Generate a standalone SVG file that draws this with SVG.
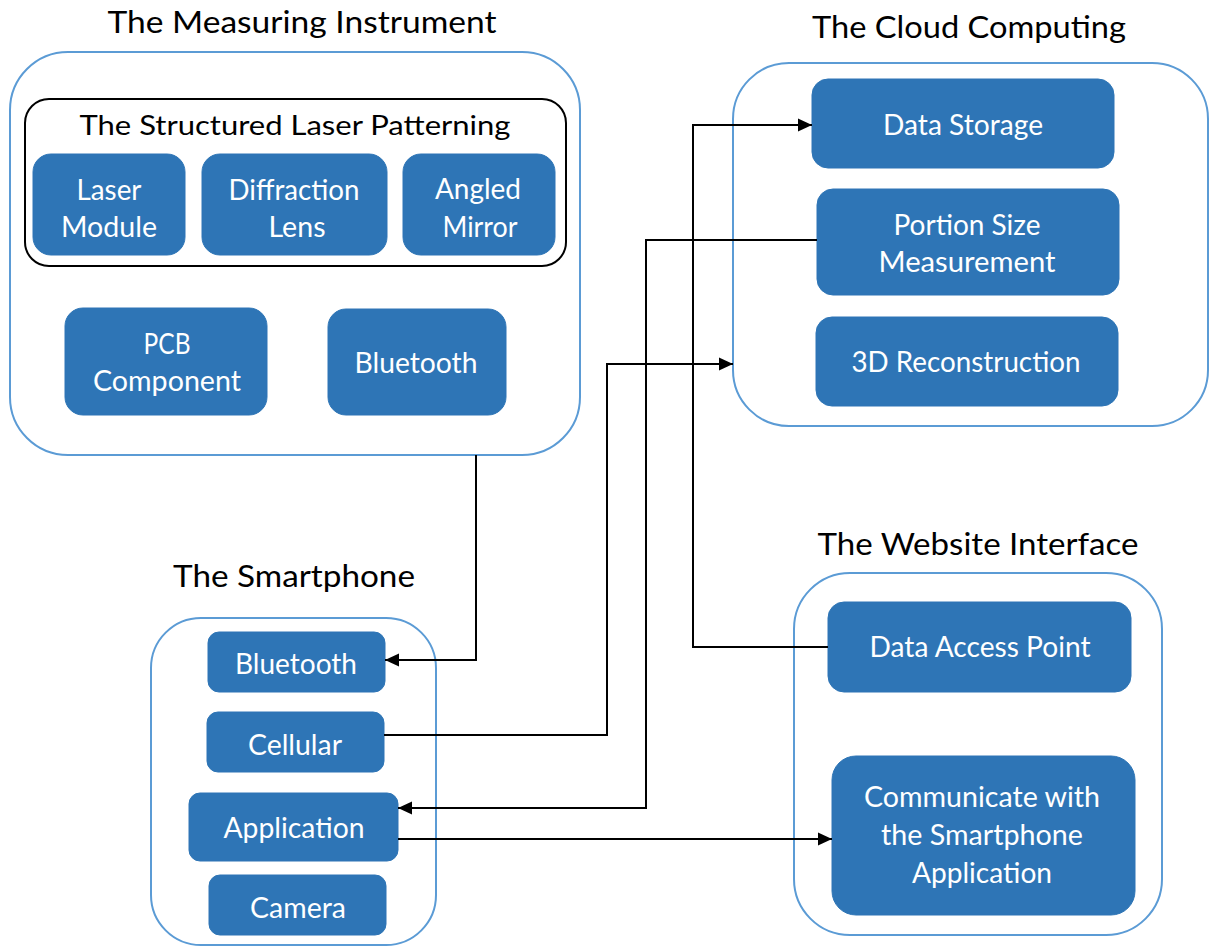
<svg xmlns="http://www.w3.org/2000/svg" width="1210" height="947" viewBox="0 0 1210 947">
  <defs>
    <style>
      .frame { fill: #ffffff; stroke: #5B9BD5; stroke-width: 2; }
      .sub { fill: none; stroke: #000000; stroke-width: 2; }
      .box { fill: #2E75B6; stroke: #2E75B6; stroke-width: 1; }
      .title { font-family: Lato, "Liberation Sans", sans-serif; font-size: 31px; fill: #000000; text-anchor: middle; }
      .subtitle { font-family: Lato, "Liberation Sans", sans-serif; font-size: 27px; fill: #000000; text-anchor: middle; }
      .label { font-family: Lato, "Liberation Sans", sans-serif; font-size: 28px; fill: #ffffff; text-anchor: middle; }
      .wire { fill: none; stroke: #000000; stroke-width: 2; }
    </style>
    <marker id="arrow" markerUnits="userSpaceOnUse" markerWidth="16" markerHeight="16" refX="14" refY="8" orient="auto">
      <path d="M0,1.5 L14,8 L0,14.5 Z" fill="#000000"/>
    </marker>
  </defs>
  <rect width="1210" height="947" fill="#ffffff"/>

  <!-- The Measuring Instrument -->
  <g id="measuring-instrument">
    <text class="title" x="302" y="33" textLength="389" lengthAdjust="spacingAndGlyphs">The Measuring Instrument</text>
    <rect class="frame" x="10" y="52" width="570" height="403" rx="58"/>
    <g id="laser-patterning">
      <rect class="sub" x="25" y="99" width="541" height="167" rx="24"/>
      <text class="subtitle" x="295" y="135" textLength="431" lengthAdjust="spacingAndGlyphs">The Structured Laser Patterning</text>
    </g>
    <g id="laser-module">
      <rect class="box" x="33" y="154" width="152" height="101" rx="18"/>
      <text class="label" x="109" y="200" textLength="65" lengthAdjust="spacingAndGlyphs">Laser</text>
      <text class="label" x="109" y="237" textLength="96" lengthAdjust="spacingAndGlyphs">Module</text>
    </g>
    <g id="diffraction-lens">
      <rect class="box" x="202" y="154" width="185" height="101" rx="18"/>
      <text class="label" x="294" y="200" textLength="131" lengthAdjust="spacingAndGlyphs">Diffraction</text>
      <text class="label" x="297" y="237" textLength="57" lengthAdjust="spacingAndGlyphs">Lens</text>
    </g>
    <g id="angled-mirror">
      <rect class="box" x="403" y="154" width="152" height="101" rx="18"/>
      <text class="label" x="478" y="199" textLength="86" lengthAdjust="spacingAndGlyphs">Angled</text>
      <text class="label" x="480" y="237" textLength="75" lengthAdjust="spacingAndGlyphs">Mirror</text>
    </g>
    <g id="pcb-component">
      <rect class="box" x="65" y="308" width="202" height="107" rx="18"/>
      <text class="label" x="167" y="354" textLength="47" lengthAdjust="spacingAndGlyphs">PCB</text>
      <text class="label" x="167" y="391" textLength="148" lengthAdjust="spacingAndGlyphs">Component</text>
    </g>
    <g id="instrument-bluetooth">
      <rect class="box" x="328" y="309" width="178" height="106" rx="18"/>
      <text class="label" x="416" y="373" textLength="123" lengthAdjust="spacingAndGlyphs">Bluetooth</text>
    </g>
  </g>

  <!-- The Cloud Computing -->
  <g id="cloud-computing">
    <text class="title" x="969" y="38" textLength="314" lengthAdjust="spacingAndGlyphs">The Cloud Computing</text>
    <rect class="frame" x="733" y="63" width="475" height="363" rx="56"/>
    <g id="data-storage">
      <rect class="box" x="812" y="79" width="302" height="89" rx="16"/>
      <text class="label" x="963" y="135" textLength="160" lengthAdjust="spacingAndGlyphs">Data Storage</text>
    </g>
    <g id="portion-size">
      <rect class="box" x="817" y="189" width="302" height="106" rx="16"/>
      <text class="label" x="967" y="235" textLength="147" lengthAdjust="spacingAndGlyphs">Portion Size</text>
      <text class="label" x="967" y="272" textLength="177" lengthAdjust="spacingAndGlyphs">Measurement</text>
    </g>
    <g id="reconstruction">
      <rect class="box" x="816" y="317" width="302" height="89" rx="16"/>
      <text class="label" x="966" y="372" textLength="229" lengthAdjust="spacingAndGlyphs">3D Reconstruction</text>
    </g>
  </g>

  <!-- The Smartphone -->
  <g id="smartphone">
    <text class="title" x="294" y="587" textLength="242" lengthAdjust="spacingAndGlyphs">The Smartphone</text>
    <rect class="frame" x="151" y="618" width="285" height="327" rx="50"/>
    <g id="phone-bluetooth">
      <rect class="box" x="208" y="632" width="177" height="60" rx="11"/>
      <text class="label" x="296" y="674" textLength="122" lengthAdjust="spacingAndGlyphs">Bluetooth</text>
    </g>
    <g id="cellular">
      <rect class="box" x="207" y="712" width="177" height="60" rx="11"/>
      <text class="label" x="295" y="755" textLength="94" lengthAdjust="spacingAndGlyphs">Cellular</text>
    </g>
    <g id="application">
      <rect class="box" x="189" y="793" width="209" height="68" rx="11"/>
      <text class="label" x="294" y="838" textLength="141" lengthAdjust="spacingAndGlyphs">Application</text>
    </g>
    <g id="camera">
      <rect class="box" x="209" y="875" width="177" height="60" rx="11"/>
      <text class="label" x="298" y="918" textLength="96" lengthAdjust="spacingAndGlyphs">Camera</text>
    </g>
  </g>

  <!-- The Website Interface -->
  <g id="website-interface">
    <text class="title" x="978" y="555" textLength="321" lengthAdjust="spacingAndGlyphs">The Website Interface</text>
    <rect class="frame" x="794" y="573" width="368" height="362" rx="56"/>
    <g id="data-access-point">
      <rect class="box" x="828" y="602" width="303" height="90" rx="16"/>
      <text class="label" x="980" y="657" textLength="221" lengthAdjust="spacingAndGlyphs">Data Access Point</text>
    </g>
    <g id="communicate">
      <rect class="box" x="832" y="756" width="303" height="159" rx="24"/>
      <text class="label" x="982" y="807" textLength="236" lengthAdjust="spacingAndGlyphs">Communicate with</text>
      <text class="label" x="982" y="845" textLength="202" lengthAdjust="spacingAndGlyphs">the Smartphone</text>
      <text class="label" x="982" y="883" textLength="140" lengthAdjust="spacingAndGlyphs">Application</text>
    </g>
  </g>

  <!-- Connectors -->
  <g id="connectors">
    <path class="wire" d="M476,455 V660 H385" marker-end="url(#arrow)"/>
    <path class="wire" d="M384,735 H607 V364 H733" marker-end="url(#arrow)"/>
    <path class="wire" d="M817,240 H646 V808 H398" marker-end="url(#arrow)"/>
    <path class="wire" d="M828,647 H693 V125 H812" marker-end="url(#arrow)"/>
    <path class="wire" d="M398,839 H832" marker-end="url(#arrow)"/>
  </g>
</svg>
